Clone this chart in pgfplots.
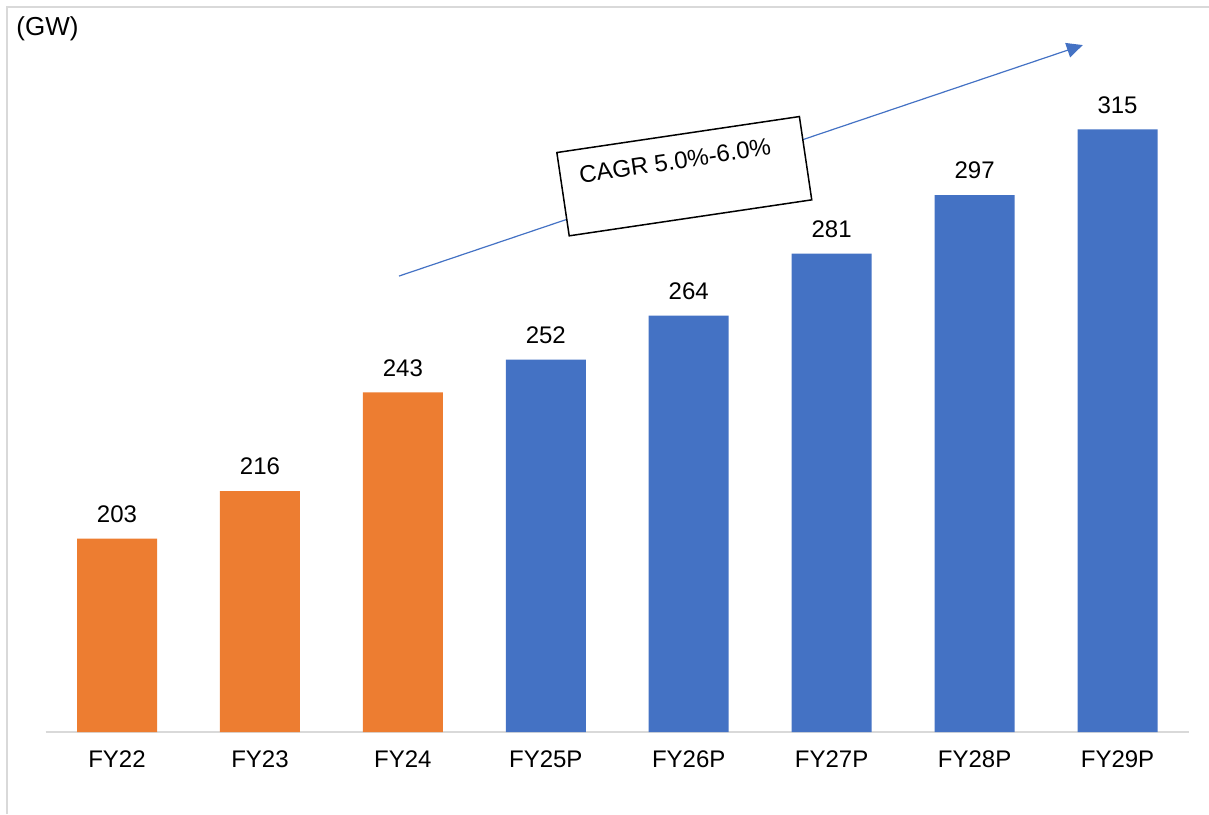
\documentclass[border=0pt]{standalone}
\usepackage{pgfplots}
\pgfplotsset{compat=1.18}
\usetikzlibrary{arrows.meta}
\usepackage{fontspec}
\setmainfont{Liberation Sans}
\definecolor{xorange}{HTML}{ED7D31}
\definecolor{xblue}{HTML}{4472C4}
\definecolor{xgray}{HTML}{D9D9D9}
\begin{document}
\begin{tikzpicture}
\begin{axis}[
  scale only axis, width=571.7pt, height=362.5pt,
  xmin=-0.5, xmax=7.5, ymin=150, ymax=348.5,
  axis x line*=bottom, axis y line=none,
  x axis line style={xgray, line width=1pt, -},
  xtick={0,...,7},
  xticklabels={FY22,FY23,FY24,FY25P,FY26P,FY27P,FY28P,FY29P},
  major tick length=0pt,
  xticklabel style={font=\fontsize{12}{14}\selectfont, yshift=-6pt},
  ybar, bar width=40pt, bar shift=0pt,
  nodes near coords,
  every node near coord/.append style={font=\fontsize{12}{14}\selectfont, text=black, yshift=4.5pt},
  /pgf/number format/assume math mode=true,
]
\addplot[fill=xorange, draw=none] coordinates {(0,203) (1,216) (2,243)};
\addplot[fill=xblue, draw=none] coordinates {(3,252) (4,264) (5,281) (6,297) (7,315)};
\coordinate (fBL) at (axis cs:-0.8186,127.55);
\coordinate (fTR) at (axis cs:7.640,350.44);
\coordinate (fL) at (axis cs:-0.7696,127.55);
\coordinate (fT) at (axis cs:-0.7696,348.5);
\coordinate (fR) at (axis cs:7.640,348.5);
\coordinate (aS) at (axis cs:1.973,274.86);
\coordinate (aE) at (axis cs:6.757,338.1);
\coordinate (bC) at (axis cs:3.969,302.2);
\coordinate (tC) at (axis cs:3.904,306.4);
\coordinate (gw) at (axis cs:-0.7066,340.6);
\end{axis}
\pgfresetboundingbox
\path[use as bounding box] (fBL) rectangle (fTR);
\draw[xgray, line width=1pt] (fL) -- (fT) -- (fR);
\draw[xblue, line width=0.6pt, -{Triangle[length=8pt,width=7.5pt]}] (aS) -- (aE);
\node[draw=black, fill=white, line width=0.75pt, rotate=8.44, minimum width=122.6pt, minimum height=42.1pt, inner sep=0pt] at (bC) {};
\node[rotate=8.44, inner sep=0pt, font=\fontsize{12}{14}\selectfont] at (tC) {CAGR 5.0\%-6.0\%};
\node[anchor=base west, inner sep=0pt, font=\fontsize{13}{15}\selectfont] at (gw) {(GW)};
\end{tikzpicture}
\end{document}
